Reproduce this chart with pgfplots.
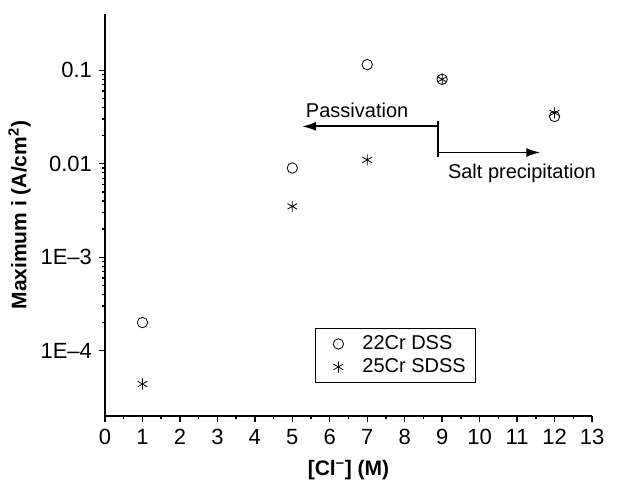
\documentclass[border=0pt]{standalone}
\usepackage{pgfplots}
\pgfplotsset{compat=1.18}
\usepackage{fontspec}
\setmainfont{Liberation Sans}
\usetikzlibrary{arrows.meta}
\begin{document}
\begin{tikzpicture}
\useasboundingbox (-52.5pt,-33.5pt) rectangle (260pt,208pt);
\begin{axis}[
  at={(0,0)}, anchor=south west,
  scale only axis, width=243.5pt, height=201pt,
  xmin=0, xmax=13, ymode=log, ymin=2e-5, ymax=0.4,
  axis x line*=bottom, axis y line*=left,
  axis line style={line width=0.9pt, -},
  tick align=outside,
  major tick length=3pt, minor tick length=1.6pt,
  every tick/.style={black, line width=0.7pt},
  xtick={0,1,...,13}, minor x tick num=1,
  ytick={1e-4,1e-3,0.01,0.1},
  yticklabels={1E--4,1E--3,0.01,0.1},
  /pgf/number format/assume math mode=true,
  tick label style={font=\fontsize{11}{13}\selectfont},
  xlabel={\textbf{[Cl\textsuperscript{--}] (M)}},
  ylabel={\textbf{Maximum i (A/cm\textsuperscript{2})}},
  label style={font=\fontsize{10.5}{12}\selectfont},
  xlabel style={yshift=-1pt},
  ylabel style={yshift=-2pt},
  legend style={at={(0.431,0.219)}, anchor=north west, draw=black, line width=0.5pt,
    font=\fontsize{10}{12}\selectfont, inner xsep=3pt, inner ysep=1.5pt, row sep=-1pt},
  legend image code/.code={\path[draw=none] (0pt,0pt) -- (18.5pt,0pt); \draw plot coordinates {(8.5pt,0pt)};},
  legend cell align=left,
  clip=false,
]
\addplot[only marks, mark=o, mark size=2.6pt, black, thin] coordinates {
 (1,2.0e-4) (5,0.009) (7,0.115) (9,0.08) (12,0.032)};
\addlegendentry{22Cr DSS}
\addplot[only marks, mark=asterisk, mark size=2.8pt, black, thin] coordinates {
 (1,4.4e-5) (5,0.0035) (7,0.011) (9,0.08) (12,0.035)};
\addlegendentry{25Cr SDSS}
\draw[line width=1pt] (axis cs:8.9,0.0284) -- (axis cs:8.9,0.0117);
\draw[line width=0.9pt, -{Latex[length=7pt,width=4.5pt]}] (axis cs:8.9,0.0251) -- (axis cs:5.26,0.0251);
\draw[line width=0.9pt, -{Latex[length=7pt,width=4.5pt]}] (axis cs:8.9,0.0132) -- (axis cs:11.62,0.0132);
\node[font=\fontsize{10}{12}\selectfont] at (axis cs:6.73,0.0373) {Passivation};
\node[font=\fontsize{10}{12}\selectfont] at (axis cs:11.13,0.0079) {Salt precipitation};
\end{axis}
\end{tikzpicture}
\end{document}
